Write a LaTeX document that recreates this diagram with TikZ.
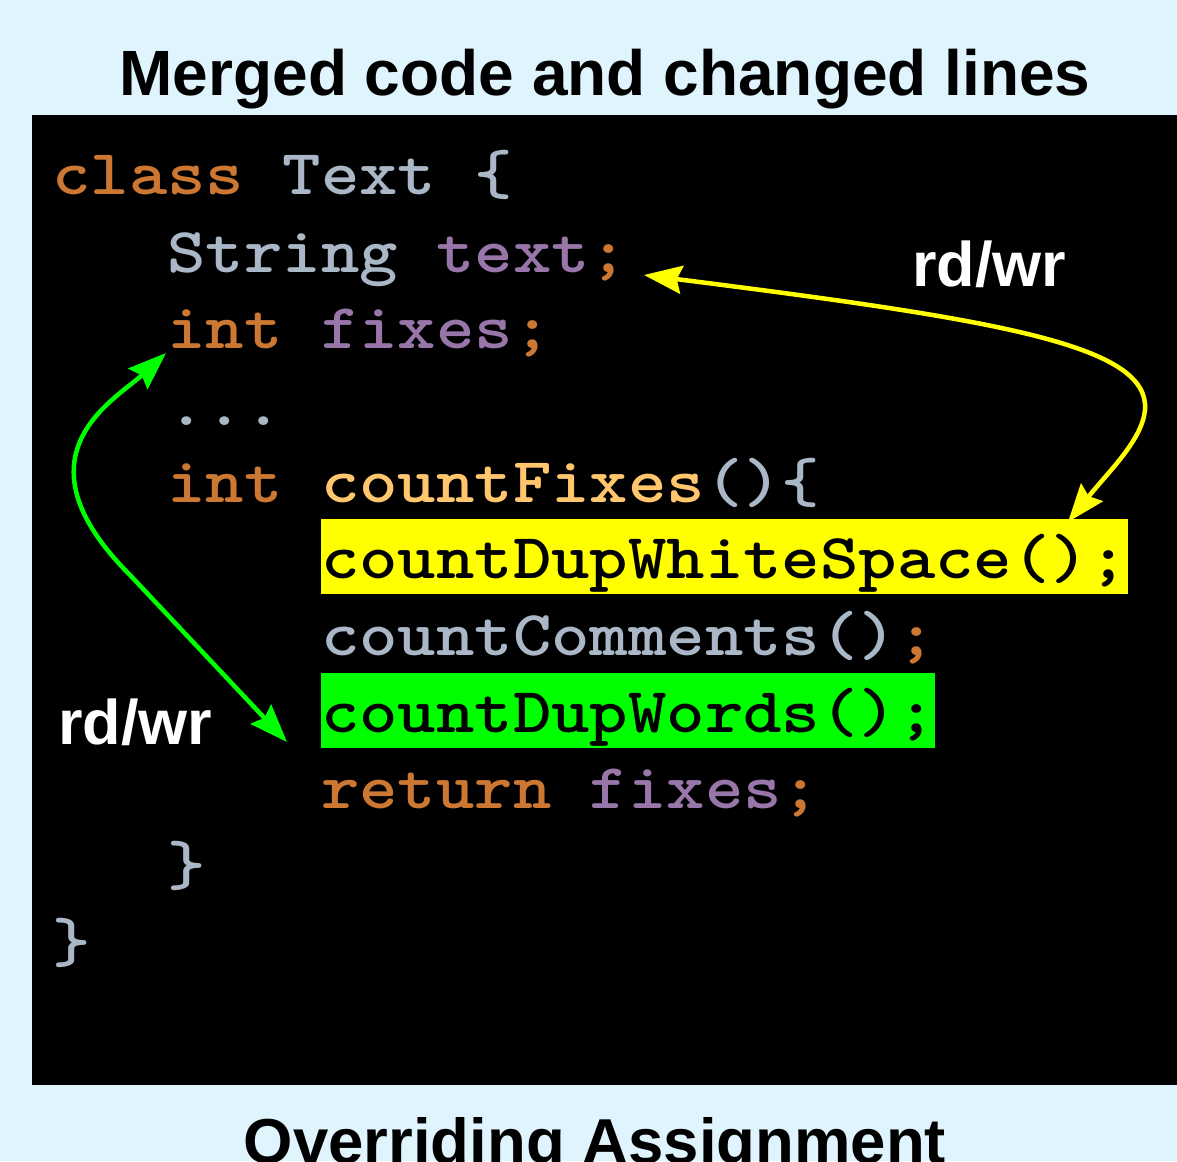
\documentclass[tikz,border=0pt]{standalone}
\usepackage{fontspec}
\setmainfont{Liberation Sans}
\newfontfamily\codefont{lmmonolt10-bold.otf}[FakeStretch=1.143]
\usetikzlibrary{arrows.meta}
\definecolor{bgblue}{HTML}{E0F4FD}
\definecolor{kw}{HTML}{CC7832}
\definecolor{idg}{HTML}{A9B7C6}
\definecolor{fld}{HTML}{9876AA}
\definecolor{mth}{HTML}{FFC66D}
\definecolor{hlyellow}{HTML}{FFFF00}
\definecolor{hlgreen}{HTML}{00FF00}
\tikzset{
  code/.style={anchor=base west, inner sep=0pt, font=\fontsize{64}{77}\selectfont\codefont},
  hl/.style={code, text=black, fill=#1, text height=59pt, text depth=16pt},
  heading/.style={anchor=base, inner sep=0pt, text=black, font=\fontsize{64}{77}\selectfont\bfseries},
  rw/.style={anchor=base west, inner sep=0pt, text=white, font=\fontsize{63}{70}\selectfont\bfseries},
  link/.style={line width=4.5pt, draw=#1,
    {Stealth[length=38pt,width=28pt,inset=5pt,fill=#1]}-{Stealth[length=38pt,width=28pt,inset=5pt,fill=#1]}}
}
\begin{document}
\begin{tikzpicture}[x=1pt,y=-1pt]
\useasboundingbox (0,0) rectangle (1177,1161);
\fill[bgblue] (0,0) rectangle (1177,1161);
\fill[black] (32,115) rectangle (1177,1085);

\node[heading] (title) at (605,96) {Merged code and changed lines};
\node[heading, font=\fontsize{63.5}{77}\selectfont\bfseries] (caption) at (595,1163) {Overriding Assignment};

% code lines (column width 38.4)
\node[code] (l1) at (52,195) {\textcolor{kw}{class} \textcolor{idg}{Text \{}};
\node[code] (l2) at (167.2,272) {\textcolor{idg}{String} \textcolor{fld}{text}\textcolor{kw}{;}};
\node[code] (l3) at (167.2,348) {\textcolor{kw}{int} \textcolor{fld}{fixes}\textcolor{kw}{;}};
\node[code,text=idg] (l4) at (167.2,425) {...};
\node[code] (l5) at (167.2,502) {\textcolor{kw}{int} \textcolor{mth}{countFixes}\textcolor{idg}{()\{}};
\node[hl=hlyellow] (l6) at (320.8,578) {countDupWhiteSpace();};
\node[code] (l7) at (320.8,655) {\textcolor{idg}{countComments()}\textcolor{kw}{;}};
\node[hl=hlgreen] (l8) at (320.8,732) {countDupWords();};
\node[code] (l9) at (320.8,808) {\textcolor{kw}{return} \textcolor{fld}{fixes}\textcolor{kw}{;}};
\node[code,text=idg] (l10) at (167.2,885) {\}};
\node[code,text=idg] (l11) at (52,962) {\}};

% labels
\node[rw] (rwright) at (912,286) {rd/wr};
\node[rw] (rwleft) at (58,744) {rd/wr};

% connector ends
\coordinate (ytop) at (644,275);
\coordinate (ybot) at (1068,522);
\coordinate (gtop) at (166,353);
\coordinate (gbot) at (287,742);

\draw[link=hlyellow] (ytop) .. controls (1000,320) and (1150,345) .. (1145,410)
   .. controls (1142,440) and (1110,470) .. (ybot);
\draw[link=hlgreen] (gtop) .. controls (115,400) and (10,455) .. (130,575) -- (gbot);
\end{tikzpicture}
\end{document}
